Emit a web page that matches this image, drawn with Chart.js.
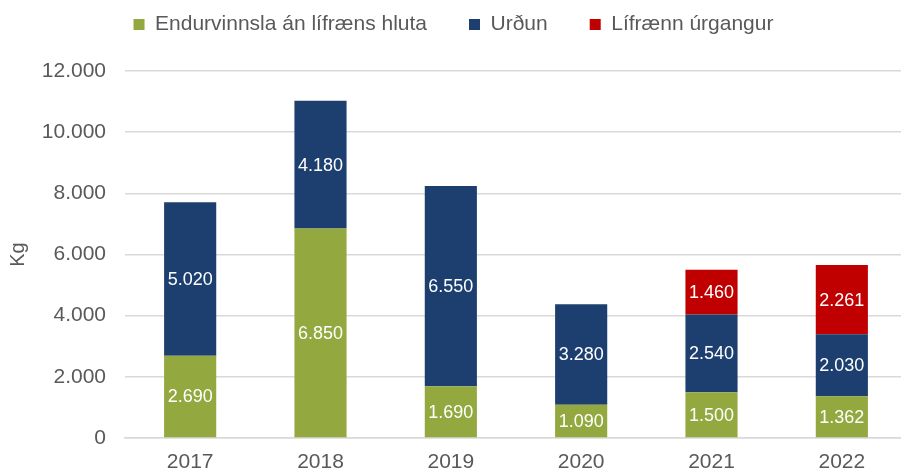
<!DOCTYPE html>
<html>
<head>
<meta charset="utf-8">
<script src="https://cdn.jsdelivr.net/npm/chart.js@4"></script>
<style>
  html, body { margin: 0; padding: 0; background: #fff; }
  #wrap { width: 901px; height: 473px; overflow: hidden; position: relative; }
  #wrap canvas { display: block; }
</style>
</head>
<body>
<div id="wrap"><canvas id="chart" width="908" height="473"></canvas></div>
<script>
// gögn lesin af myndinni (kg)
const years = ["2017", "2018", "2019", "2020", "2021", "2022"];
const endurvinnsla = [2690, 6850, 1690, 1090, 1500, 1362];
const urdun = [5020, 4180, 6550, 3280, 2540, 2030];
const lifraennUrgangur = [null, null, null, null, 1460, 2261];
const yTicks = [0, 2000, 4000, 6000, 8000, 10000, 12000];

const FONT = '"Liberation Sans", Arial, sans-serif';
const TEXT = "#595959";
const GRID = "#D9D9D9";
const LEGEND_TOP = -28;
const PLOT_TOP = 71;

function fmt(v) {
  return String(v).replace(/\B(?=(\d{3})+(?!\d))/g, ".");
}

// hvít gildi inni í hverjum stöplabút
const segmentLabels = {
  id: "segmentLabels",
  afterDatasetsDraw(chart) {
    const ctx = chart.ctx;
    ctx.save();
    ctx.font = "18px " + FONT;
    ctx.fillStyle = "#fff";
    ctx.textAlign = "center";
    ctx.textBaseline = "middle";
    chart.data.datasets.forEach((ds, i) => {
      const meta = chart.getDatasetMeta(i);
      meta.data.forEach((bar, j) => {
        const v = ds.data[j];
        if (v == null || v === 0) return;
        const p = bar.getProps(["x", "y", "base"], true);
        ctx.fillText(fmt(v), p.x, (p.y + p.base) / 2 + 1);
      });
    });
    ctx.restore();
  }
};

// skýringin fær fasta hæð svo teiknisvæðið byrji á réttum stað
const legendHeight = {
  id: "legendHeight",
  beforeLayout(chart) {
    const lg = chart.legend;
    if (!lg || lg._fixedFit) return;
    const fit = lg.fit;
    lg.fit = function () {
      fit.call(this);
      this.height = PLOT_TOP - LEGEND_TOP;
    };
    lg._fixedFit = true;
  }
};

new Chart(document.getElementById("chart"), {
  type: "bar",
  data: {
    labels: years,
    datasets: [
      { label: "Endurvinnsla án lífræns hluta", data: endurvinnsla, backgroundColor: "#93A83E" },
      { label: "Urðun", data: urdun, backgroundColor: "#1C3F6F" },
      { label: "Lífrænn úrgangur", data: lifraennUrgangur, backgroundColor: "#C00000" }
    ]
  },
  options: {
    responsive: false,
    animation: false,
    devicePixelRatio: 1,
    layout: { padding: { top: LEGEND_TOP, left: 0, right: 1, bottom: 0 } },
    datasets: { bar: { categoryPercentage: 1, barPercentage: 0.4 } },
    plugins: {
      legend: {
        position: "top",
        labels: {
          font: { family: FONT, size: 21 },
          color: TEXT,
          boxWidth: 11,
          boxHeight: 11,
          padding: 42
        }
      },
      tooltip: { enabled: false }
    },
    scales: {
      x: {
        stacked: true,
        grid: { display: false, drawTicks: false },
        border: { display: true, color: GRID, width: 1.5 },
        ticks: { font: { family: FONT, size: 21 }, color: TEXT, padding: 12 },
        afterFit: s => { s.height = 35; }
      },
      y: {
        stacked: true,
        min: 0,
        max: 12000,
        afterBuildTicks: s => { s.ticks = yTicks.map(v => ({ value: v })); },
        grid: { color: GRID, lineWidth: 1.5, drawTicks: false },
        border: { display: false },
        ticks: {
          font: { family: FONT, size: 21 },
          color: TEXT,
          padding: 19,
          callback: v => fmt(v)
        },
        title: {
          display: true,
          text: "Kg",
          font: { family: FONT, size: 20 },
          color: TEXT,
          padding: { top: 6, bottom: 0 }
        },
        afterFit: s => { s.width = 125; }
      }
    }
  },
  plugins: [segmentLabels, legendHeight]
});
</script>
</body>
</html>
